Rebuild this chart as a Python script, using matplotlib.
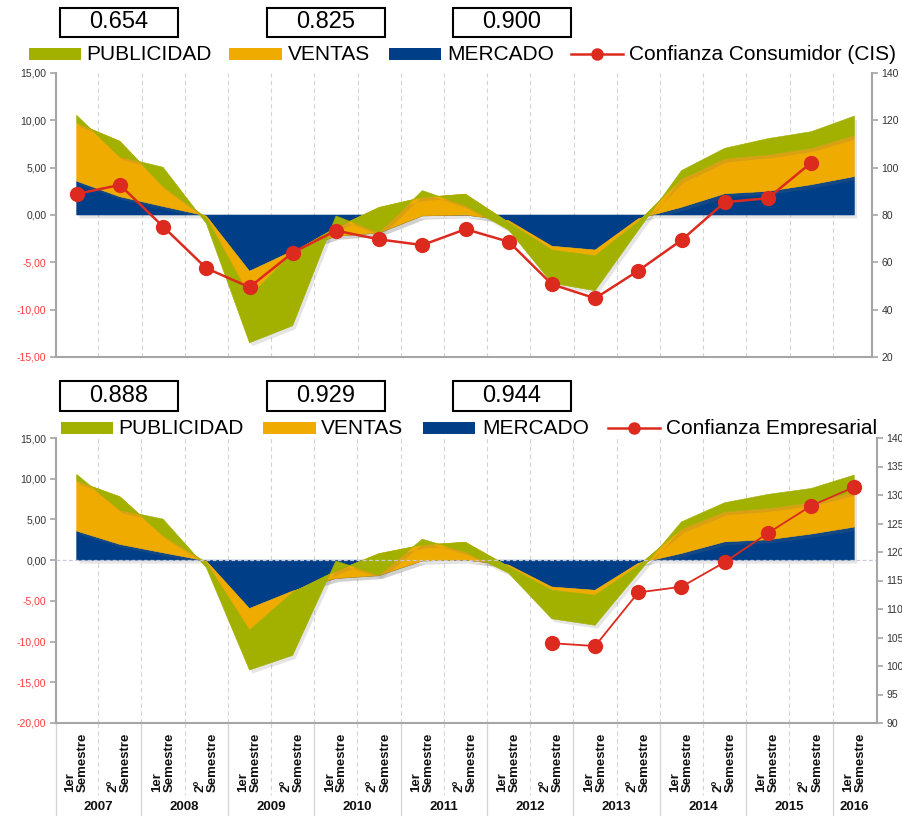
import numpy as np
import matplotlib.pyplot as plt
import matplotlib.patheffects as pe
from matplotlib.lines import Line2D
from matplotlib.patches import Rectangle

plt.rcParams['font.family'] = ['Liberation Sans', 'DejaVu Sans']

W, H = 903, 816

# periodos semestrales 2007-2016
semestres = ['1er\nSemestre', '2º\nSemestre'] * 9 + ['1er\nSemestre']
anios = ['2007', '2008', '2009', '2010', '2011', '2012', '2013', '2014', '2015', '2016']

# series apiladas (Excel: area apilada)
mercado = [3.57, 1.93, 0.90, -0.10, -5.94, -3.80, -2.25, -1.90, -0.10, 0.00,
           -0.60, -3.30, -3.70, -0.40, 0.82, 2.25, 2.50, 3.20, 4.06]
ventas = [6.14, 5.86, 2.10, -0.20, -2.66, -0.15, 0.90, 2.70, 1.95, 2.20,
          -0.20, -0.40, -0.60, -0.30, 2.98, 3.69, 3.85, 3.85, 4.34]
publicidad = [0.82, -1.64, 2.04, -0.60, -4.90, -7.75, 1.25, -2.65, 0.73, -1.20,
              -0.80, -3.50, -3.70, -0.90, 0.90, 1.11, 1.72, 1.75, 2.05]

conf_consumidor = [88.9, 92.7, 75.1, 57.5, 49.5, 64.1, 73.4, 69.7, 67.3, 74.0,
                   68.7, 50.7, 44.8, 56.5, 69.4, 85.4, 87.1, 102.1]
conf_empresarial = [104.0, 103.5, 112.9, 113.9, 118.2, 123.3, 128.1, 131.4]
inicio_empresarial = 11

corr_cis = ['0.654', '0.825', '0.900']
corr_emp = ['0.888', '0.929', '0.944']

VERDE = '#A2B000'
NARANJA = '#F0AB00'
AZUL = '#003F88'
ROJO = '#DC2B1E'
GRIS = '#A6A6A6'
TXT = '#333333'


def fx(x):
    return x / W


def fy(y):
    return 1 - y / H


def fmt(v):
    return ('%.2f' % v).replace('.', ',')


fig = plt.figure(figsize=(W / 100, H / 100), dpi=100)
x = np.arange(len(mercado))


def panel(left, top, right, bottom, xmax, ylim, ylim2, paso2, linea, x0, lw):
    ax = fig.add_axes([fx(left), fy(bottom), (right - left) / W, (bottom - top) / H])
    ax.set_zorder(5)
    capas = ax.stackplot(x, mercado, ventas, publicidad,
                         colors=[AZUL, NARANJA, VERDE], lw=0.4)
    for c, col in zip(capas, [AZUL, NARANJA, VERDE]):
        c.set_edgecolor(col)
        c.set_path_effects([pe.SimplePatchShadow(offset=(2, -2.5), shadow_rgbFace='0.45', alpha=0.18),
                            pe.Normal()])
    for b in np.arange(0.5, 18, 1):
        ax.axvline(b, color='#D4D4D4', ls=(0, (4, 3)), lw=0.8, zorder=0)
    ax.set_xlim(-0.479, xmax)
    ax.set_ylim(*ylim)
    yt = np.arange(ylim[0], ylim[1] + 1, 5)
    ax.set_yticks(yt)
    ax.set_yticklabels([fmt(v) for v in yt])
    for t, v in zip(ax.get_yticklabels(), yt):
        t.set_color('#FF3B3B' if v < 0 else TXT)
    ax.tick_params(axis='y', length=4, width=1.2, color=GRIS, labelsize=7.5, pad=3)
    ax.set_xticks([])
    for s in ['top', 'right']:
        ax.spines[s].set_visible(False)
    for s in ['left', 'bottom']:
        ax.spines[s].set_color(GRIS)
        ax.spines[s].set_linewidth(1.5)

    ax2 = ax.twinx()
    ax2.set_zorder(6)
    ax2.patch.set_visible(False)
    ax2.plot(x[x0:x0 + len(linea)], linea, '-o', color=ROJO, lw=lw, ms=11,
             markeredgewidth=0, zorder=5)
    ax2.set_ylim(*ylim2)
    ax2.set_yticks(np.arange(ylim2[0], ylim2[1] + 1, paso2))
    ax2.tick_params(axis='y', length=4, width=1.2, color=GRIS, labelsize=7.5,
                    labelcolor=TXT, pad=3)
    for s in ['top', 'left', 'bottom']:
        ax2.spines[s].set_visible(False)
    ax2.spines['right'].set_color(GRIS)
    ax2.spines['right'].set_linewidth(1.5)
    ax2.set_xlim(-0.479, xmax)
    return ax, ax2


def cabecera(cajas, ycaja, items, ylinea, etiqueta, xs):
    for (x1, x2), val in zip(cajas, ycaja[1]):
        fig.add_artist(Rectangle((fx(x1), fy(ycaja[0][1])), (x2 - x1) / W,
                                 (ycaja[0][1] - ycaja[0][0]) / H, transform=fig.transFigure,
                                 facecolor='white', edgecolor='black', lw=1.5, zorder=1))
        fig.text(fx((x1 + x2) / 2), fy(sum(ycaja[0]) / 2), val, fontsize=17,
                 ha='center', va='center', zorder=2)
    for (x1, x2, xt), (nombre, col) in zip(xs[:3], items):
        fig.add_artist(Rectangle((fx(x1), fy(ylinea + 6)), (x2 - x1) / W, 12 / H,
                                 transform=fig.transFigure, facecolor=col,
                                 edgecolor='none', zorder=1))
        fig.text(fx(xt), fy(ylinea), nombre, fontsize=15, ha='left', va='center', zorder=1)
    l1, l2, lt = xs[3]
    fig.add_artist(Line2D([fx(l1), fx(l2)], [fy(ylinea), fy(ylinea)], color=ROJO, lw=1.8,
                          transform=fig.transFigure, zorder=1))
    fig.add_artist(Line2D([fx((l1 + l2) / 2)], [fy(ylinea)], marker='o', ms=9, color=ROJO,
                          markeredgewidth=0, transform=fig.transFigure, zorder=1))
    fig.text(fx(lt), fy(ylinea), etiqueta, fontsize=15, ha='left', va='center', zorder=1)


items = [('PUBLICIDAD', VERDE), ('VENTAS', NARANJA), ('MERCADO', AZUL)]

# panel superior: confianza del consumidor
cabecera([(60, 178), (267, 385), (453, 571)], ((8, 37), corr_cis), items, 54,
         'Confianza Consumidor (CIS)',
         [(29, 81, 86), (229, 282, 288), (389, 441, 447), (571, 623, 629)])
ax_a, ax_a2 = panel(56, 73, 871.7, 357, 18.40, (-15, 15), (20, 140), 20,
                    conf_consumidor, 0, 1.8)

# panel inferior: confianza empresarial
cabecera([(60, 178), (267, 385), (453, 571)], ((381, 411), corr_emp), items, 428,
         'Confianza Empresarial',
         [(61, 113, 118), (263, 316, 321), (423, 475, 482), (608, 660, 666)])
# el area de trazado tapa el pie de la leyenda inferior
fig.add_artist(Rectangle((fx(56), fy(438)), (880 - 56) / W, 3.5 / H,
                         transform=fig.transFigure, facecolor='white',
                         edgecolor='none', zorder=3))
ax_b, ax_b2 = panel(56, 438, 876.7, 723, 18.52, (-20, 15), (90, 140), 5,
                    conf_empresarial, inicio_empresarial, 1.3)
ax_b.axhline(0, color='#C8C8D8', ls=(0, (3, 2)), lw=0.9, zorder=4)

# eje de categorias de dos niveles
tr = ax_b.get_xaxis_transform()
alto = 723 - 438
for i, s in enumerate(semestres):
    ax_b.text(i, (723 - 792) / alto, s, rotation=90, ha='center', va='bottom',
              multialignment='left', fontsize=9.5, fontweight='bold', color='#111111',
              transform=tr, clip_on=False, linespacing=1.05)
for k, a in enumerate(anios):
    xc = 2 * k + 0.5 if k < 9 else 18
    ax_b.text(xc, (723 - 807) / alto, a, ha='center', va='center', fontsize=9.5,
              fontweight='bold', color='#111111', transform=tr, clip_on=False)
for b in np.arange(0.5, 18, 1):
    if int(b - 0.5) % 2 == 1:
        ax_b.add_line(Line2D([b, b], [0, (723 - 816) / alto], color='#D4D4D4', lw=0.9,
                             transform=tr, clip_on=False))
    else:
        ax_b.add_line(Line2D([b, b], [0, (723 - 795) / alto], color='#D4D4D4', lw=0.8,
                             ls=(0, (4, 3)), transform=tr, clip_on=False))
ax_b.add_line(Line2D([-0.479, -0.479], [0, (723 - 816) / alto], color='#D4D4D4', lw=0.9,
                     transform=tr, clip_on=False))

fig.savefig('out.png', dpi=100)
